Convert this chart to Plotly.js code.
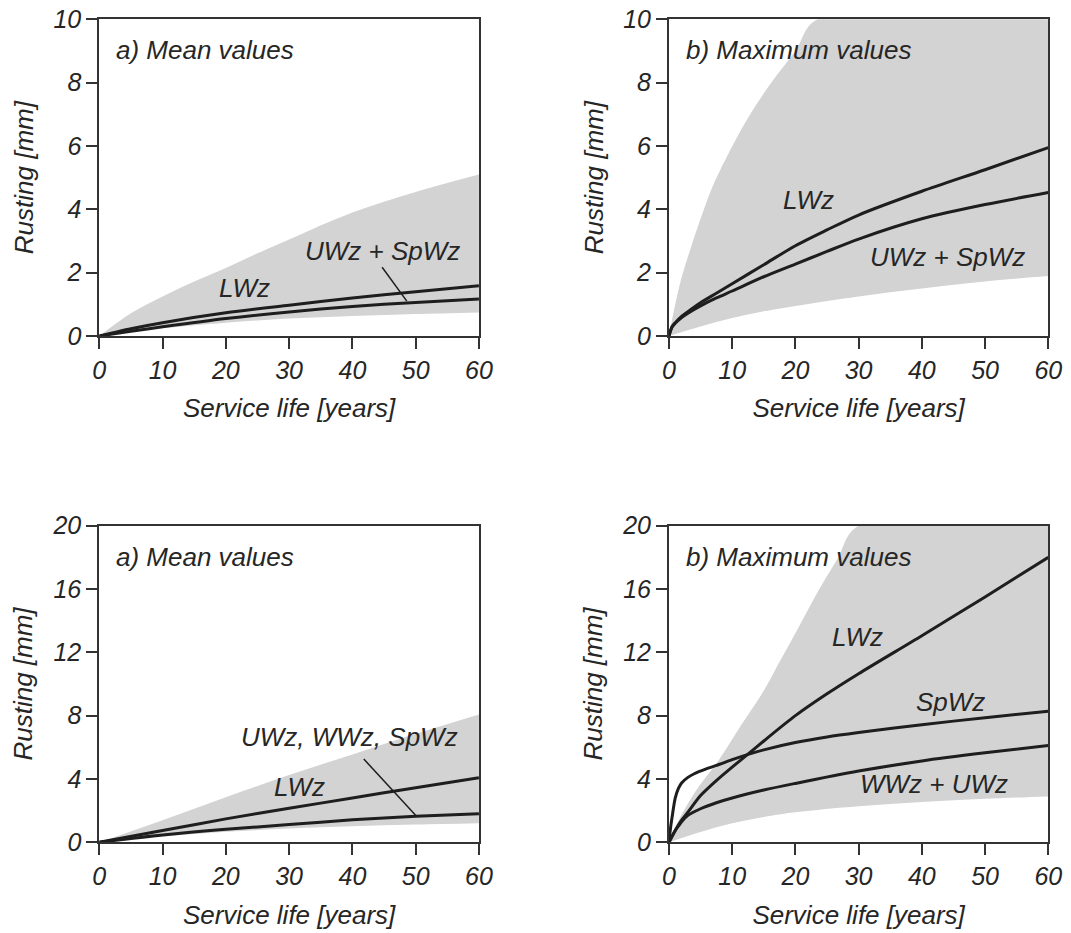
<!DOCTYPE html>
<html>
<head>
<meta charset="utf-8">
<script src="https://cdn.plot.ly/plotly-3.0.1.min.js"></script>
<style>html,body{margin:0;padding:0;background:#fff;}#chart{width:1071px;height:933px;}</style>
</head>
<body>
<div id="chart"></div>
<script>
// ---------- Panel 1 (top-left): a) Mean values, range 0-10 ----------
const p1BandUpperX = [0, 5, 10, 15, 20, 25, 30, 40, 50, 60];
const p1BandUpperY = [0, 0.72, 1.25, 1.72, 2.15, 2.61, 3.05, 3.9, 4.55, 5.1];
const p1BandLowerX = [0, 5, 10, 20, 30, 40, 50, 60];
const p1BandLowerY = [0, 0.13, 0.24, 0.42, 0.55, 0.63, 0.69, 0.74];
const p1X = [0, 5, 10, 20, 30, 40, 50, 60];
const p1LWz = [0, 0.23, 0.42, 0.73, 0.97, 1.2, 1.4, 1.59];
const p1UWzSpWz = [0, 0.15, 0.29, 0.55, 0.76, 0.93, 1.06, 1.17];

// ---------- Panel 2 (top-right): b) Maximum values, range 0-10 ----------
const p2BandUpperX = [0, 1, 2, 3.4, 5, 6.85, 9, 12.4, 16, 20, 23.5, 60];
const p2BandUpperY = [0, 1.0, 1.85, 2.75, 3.7, 4.7, 5.6, 6.85, 7.95, 9.0, 10, 10];
const p2BandLowerX = [0, 5, 10, 15, 20, 30, 40, 50, 60];
const p2BandLowerY = [0, 0.3, 0.57, 0.78, 0.95, 1.25, 1.5, 1.72, 1.89];
const p2X = [0, 0.5, 1, 2, 3, 5, 7.5, 10, 15, 20, 25, 30, 40, 50, 60];
const p2LWz = [0, 0.3, 0.42, 0.62, 0.77, 1.05, 1.35, 1.65, 2.25, 2.85, 3.35, 3.82, 4.57, 5.25, 5.95];
const p2UWzSpWz = [0, 0.28, 0.4, 0.58, 0.72, 0.95, 1.2, 1.42, 1.87, 2.27, 2.67, 3.06, 3.7, 4.15, 4.53];

// ---------- Panel 3 (bottom-left): a) Mean values, range 0-20 ----------
const p3BandUpperX = [0, 10, 20, 30, 40, 50, 60];
const p3BandUpperY = [0, 1.4, 2.85, 4.25, 5.55, 6.85, 8.08];
const p3BandLowerX = [0, 10, 20, 30, 40, 50, 60];
const p3BandLowerY = [0, 0.36, 0.66, 0.87, 1.02, 1.12, 1.2];
const p3X = [0, 10, 20, 30, 40, 50, 60];
const p3LWz = [0, 0.74, 1.48, 2.15, 2.8, 3.45, 4.08];
const p3UWzWWzSpWz = [0, 0.46, 0.82, 1.12, 1.42, 1.64, 1.8];

// ---------- Panel 4 (bottom-right): b) Maximum values, range 0-20 ----------
const p4BandUpperX = [0, 1.05, 4, 7.9, 11.3, 14.8, 17.7, 20.6, 23.5, 26.6, 30, 60];
const p4BandUpperY = [0, 1.0, 3.1, 5.2, 7.33, 9.45, 11.55, 13.65, 15.8, 17.86, 20, 20];
const p4BandLowerX = [0, 5, 10, 15, 20, 30, 40, 50, 60];
const p4BandLowerY = [0, 0.65, 1.2, 1.6, 1.9, 2.28, 2.55, 2.75, 2.9];
const p4LWzX = [0, 1, 2, 3, 5, 7.5, 10, 12.4, 15, 20, 25, 30, 40, 50, 60];
const p4LWz = [0, 0.75, 1.4, 1.9, 2.95, 3.9, 4.75, 5.54, 6.4, 8.0, 9.38, 10.65, 13.05, 15.5, 18.0];
const p4SpWzX = [0, 0.25, 0.5, 1, 1.5, 2, 3, 4, 6, 8, 10, 12.4, 15, 20, 25, 30, 40, 50, 60];
const p4SpWz = [0, 0.9, 1.6, 2.8, 3.4, 3.75, 4.1, 4.33, 4.65, 4.93, 5.22, 5.54, 5.84, 6.3, 6.65, 6.93, 7.43, 7.87, 8.28];
const p4WWzX = [0, 1, 1.58, 2, 3, 5, 7.5, 10, 15, 20, 30, 40, 50, 60];
const p4WWzUWz = [0, 0.75, 1.07, 1.3, 1.7, 2.12, 2.5, 2.8, 3.3, 3.72, 4.5, 5.14, 5.65, 6.11];

// tick labels
const xTicks = [0, 10, 20, 30, 40, 50, 60];
const yTicksTop = [0, 2, 4, 6, 8, 10];
const yTicksBottom = [0, 4, 8, 12, 16, 20];

const BAND = '#d3d3d3';
const INK = '#1e1e1e';
const AX = '#333333';
const FONT = 'Liberation Sans, Arial, sans-serif';

function band(ux, uy, lx, ly, xa, ya) {
  return [
    {x: lx, y: ly, xaxis: xa, yaxis: ya, type: 'scatter', mode: 'lines',
     line: {width: 0, color: BAND, shape: 'spline', smoothing: 1},
     hoverinfo: 'skip', showlegend: false},
    {x: ux, y: uy, xaxis: xa, yaxis: ya, type: 'scatter', mode: 'lines',
     fill: 'tonexty', fillcolor: BAND,
     line: {width: 0, color: BAND, shape: 'spline', smoothing: 1},
     hoverinfo: 'skip', showlegend: false}
  ];
}
function curve(x, y, xa, ya, name) {
  return {x: x, y: y, xaxis: xa, yaxis: ya, type: 'scatter', mode: 'lines', name: name,
          line: {color: INK, width: 3, shape: 'spline', smoothing: 0.8}, showlegend: false};
}

const traces = [].concat(
  band(p1BandUpperX, p1BandUpperY, p1BandLowerX, p1BandLowerY, 'x', 'y'),
  [curve(p1X, p1LWz, 'x', 'y', 'LWz'),
   curve(p1X, p1UWzSpWz, 'x', 'y', 'UWz + SpWz')],
  band(p2BandUpperX, p2BandUpperY, p2BandLowerX, p2BandLowerY, 'x2', 'y2'),
  [curve(p2X, p2LWz, 'x2', 'y2', 'LWz'),
   curve(p2X, p2UWzSpWz, 'x2', 'y2', 'UWz + SpWz')],
  band(p3BandUpperX, p3BandUpperY, p3BandLowerX, p3BandLowerY, 'x3', 'y3'),
  [curve(p3X, p3LWz, 'x3', 'y3', 'LWz'),
   curve(p3X, p3UWzWWzSpWz, 'x3', 'y3', 'UWz, WWz, SpWz')],
  band(p4BandUpperX, p4BandUpperY, p4BandLowerX, p4BandLowerY, 'x4', 'y4'),
  [curve(p4LWzX, p4LWz, 'x4', 'y4', 'LWz'),
   curve(p4SpWzX, p4SpWz, 'x4', 'y4', 'SpWz'),
   curve(p4WWzX, p4WWzUWz, 'x4', 'y4', 'WWz + UWz')]
);

const tickFont = {family: FONT, size: 25, color: '#262626', style: 'italic'};
const titleFont = {family: FONT, size: 26, color: '#262626', style: 'italic'};

function xAxis(domain, anchor) {
  return {domain: domain, anchor: anchor, range: [0, 60], tickvals: xTicks,
          ticktext: xTicks.map(String), ticks: 'outside', ticklen: 11, tickwidth: 2,
          tickcolor: AX, showline: true, linecolor: AX, linewidth: 2, mirror: true,
          showgrid: false, zeroline: false, tickfont: tickFont, fixedrange: true,
          title: {text: 'Service life [years]', font: titleFont, standoff: 16}};
}
function yAxis(domain, anchor, max, ticks) {
  return {domain: domain, anchor: anchor, range: [0, max], tickvals: ticks,
          ticktext: ticks.map(String), ticks: 'outside', ticklen: 11, tickwidth: 2,
          tickcolor: AX, showline: true, linecolor: AX, linewidth: 2, mirror: true,
          showgrid: false, zeroline: false, tickfont: tickFont, fixedrange: true,
          title: {text: 'Rusting [mm]', font: titleFont, standoff: 12}};
}

const XL = [0.0927, 0.4472], XR = [0.6246, 0.9788];
const YT = [0.6399, 0.9793], YB = [0.0972, 0.4366];

const annFont = {family: FONT, size: 26, color: '#262626', style: 'italic'};
function ann(text, x, y, xa, ya, anchor) {
  return {text: text, x: x, y: y, xref: xa, yref: ya, showarrow: false,
          xanchor: anchor || 'center', yanchor: 'middle', font: annFont};
}
const annotations = [
  ann('a) Mean values', 2.4, 9.03, 'x', 'y', 'left'),
  ann('LWz', 23.0, 1.51, 'x', 'y'),
  ann('UWz + SpWz', 44.8, 2.69, 'x', 'y'),
  ann('b) Maximum values', 2.4, 9.03, 'x2', 'y2', 'left'),
  ann('LWz', 22.1, 4.29, 'x2', 'y2'),
  ann('UWz + SpWz', 44.1, 2.5, 'x2', 'y2'),
  ann('a) Mean values', 2.4, 18.04, 'x3', 'y3', 'left'),
  ann('UWz, WWz, SpWz', 39.5, 6.63, 'x3', 'y3'),
  ann('LWz', 31.7, 3.52, 'x3', 'y3'),
  ann('b) Maximum values', 2.4, 18.04, 'x4', 'y4', 'left'),
  ann('LWz', 29.9, 12.99, 'x4', 'y4'),
  ann('SpWz', 44.6, 8.88, 'x4', 'y4'),
  ann('WWz + UWz', 41.9, 3.68, 'x4', 'y4')
];

const shapes = [
  {type: 'line', xref: 'x', yref: 'y', x0: 44.7, y0: 2.17, x1: 48.6, y1: 1.1, line: {color: INK, width: 1.5}},
  {type: 'line', xref: 'x3', yref: 'y3', x0: 41.8, y0: 5.26, x1: 50.1, y1: 1.66, line: {color: INK, width: 1.5}}
];

const layout = {
  width: 1071, height: 933, autosize: false,
  margin: {l: 0, r: 0, t: 0, b: 0, pad: 0},
  paper_bgcolor: '#ffffff', plot_bgcolor: '#ffffff',
  showlegend: false,
  xaxis: xAxis(XL, 'y'), yaxis: yAxis(YT, 'x', 10, yTicksTop),
  xaxis2: xAxis(XR, 'y2'), yaxis2: yAxis(YT, 'x2', 10, yTicksTop),
  xaxis3: xAxis(XL, 'y3'), yaxis3: yAxis(YB, 'x3', 20, yTicksBottom),
  xaxis4: xAxis(XR, 'y4'), yaxis4: yAxis(YB, 'x4', 20, yTicksBottom),
  annotations: annotations,
  shapes: shapes
};

Plotly.newPlot('chart', traces, layout, {displayModeBar: false, staticPlot: true});
</script>
</body>
</html>
